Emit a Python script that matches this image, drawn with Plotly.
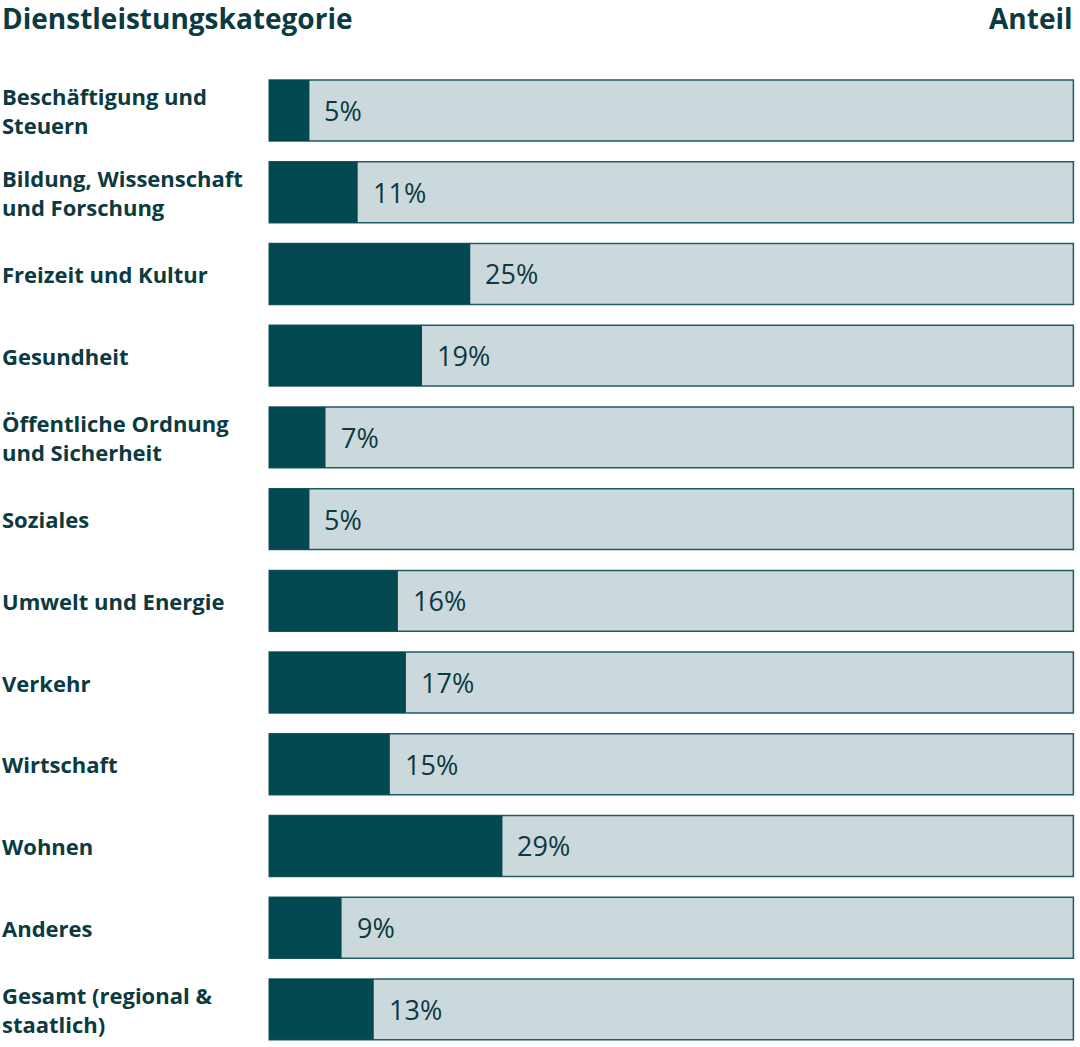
import plotly.graph_objects as go

categories = [
    "Beschäftigung und<br>Steuern",
    "Bildung, Wissenschaft<br>und Forschung",
    "Freizeit und Kultur",
    "Gesundheit",
    "Öffentliche Ordnung<br>und Sicherheit",
    "Soziales",
    "Umwelt und Energie",
    "Verkehr",
    "Wirtschaft",
    "Wohnen",
    "Anderes",
    "Gesamt (regional &<br>staatlich)",
]
values = [5, 11, 25, 19, 7, 5, 16, 17, 15, 29, 9, 13]
total = [100] * len(categories)

DARK = "#024851"
LIGHT = "#cbd9dd"
BORDER = "#1f5c66"
TEXT = "#0b3a41"
FONT = "Open Sans"

idx = list(range(len(categories)))

fig = go.Figure()
fig.add_trace(go.Bar(
    y=idx, x=total, orientation="h", width=0.745,
    marker=dict(color=LIGHT, line=dict(color=BORDER, width=1.5)),
    hoverinfo="skip", showlegend=False,
))
fig.add_trace(go.Bar(
    y=idx, x=values, orientation="h", width=0.745,
    marker=dict(color=DARK, line=dict(color=DARK, width=0)),
    showlegend=False,
))

for i, (c, v) in enumerate(zip(categories, values)):
    fig.add_annotation(x=v, y=i, xref="x", yref="y", text=f"{v}%",
                       showarrow=False, xanchor="left", xshift=13,
                       font=dict(family=FONT, size=27, color=TEXT))
    fig.add_annotation(x=0, y=i, xref="paper", yref="y", text=f"<b>{c}</b>",
                       showarrow=False, xanchor="left", xshift=-268, align="left",
                       font=dict(family=FONT, size=22, color=TEXT))

fig.add_annotation(x=0, y=1, xref="paper", yref="paper", text="<b>Dienstleistungskategorie</b>",
                   showarrow=False, xanchor="left", yanchor="middle", xshift=-268, yshift=52,
                   font=dict(family=FONT, size=28, color=TEXT))
fig.add_annotation(x=1, y=1, xref="paper", yref="paper", text="<b>Anteil</b>",
                   showarrow=False, xanchor="right", yanchor="middle", yshift=52,
                   font=dict(family=FONT, size=28, color=TEXT))

fig.update_layout(
    width=1080, height=1047,
    margin=dict(l=268, r=5, t=70, b=0),
    barmode="overlay",
    plot_bgcolor="white", paper_bgcolor="white",
    xaxis=dict(range=[-0.15, 100.2], visible=False, fixedrange=True),
    yaxis=dict(range=[11.46, -0.496], visible=False, fixedrange=True),
)

fig.write_html("out.html", config={"displayModeBar": False},
               post_script="document.body.style.margin='0';document.body.style.overflow='hidden';")
